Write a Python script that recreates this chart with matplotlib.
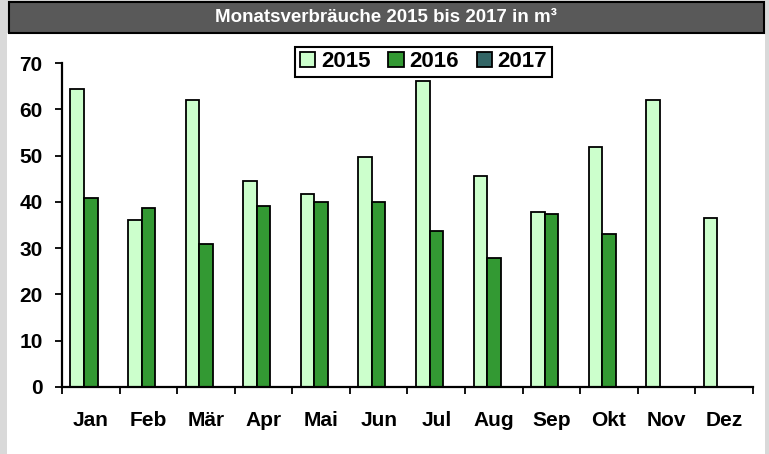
import matplotlib
matplotlib.use('Agg')
import matplotlib.pyplot as plt
from matplotlib.patches import Rectangle
import numpy as np

# Monatsverbräuche in m³
monate = ['Jan', 'Feb', 'Mär', 'Apr', 'Mai', 'Jun', 'Jul', 'Aug', 'Sep', 'Okt', 'Nov', 'Dez']
werte_2015 = [64.3, 36.1, 62.1, 44.4, 41.8, 49.6, 66.2, 45.6, 37.9, 51.8, 62.1, 36.6]
werte_2016 = [40.9, 38.7, 30.9, 39.1, 40.0, 40.0, 33.8, 27.8, 37.4, 33.1, np.nan, np.nan]
werte_2017 = [np.nan] * 12
jahre = ['2015', '2016', '2017']
farben = ['#ccffcc', '#339933', '#336666']

W, H = 769, 454
fig = plt.figure(figsize=(W / 100, H / 100), dpi=100, facecolor='#d9d9d9')

# weißes Feld und Titelbalken (hinter den Achsen)
fig.patches.append(Rectangle((7 / W, 0), 758 / W, (H - 33) / H, transform=fig.transFigure,
                             facecolor='white', edgecolor='none', zorder=-3))
fig.patches.append(Rectangle((9 / W, 1 - 33 / H), 755 / W, 31 / H, transform=fig.transFigure,
                             facecolor='#595959', edgecolor='black', linewidth=1.5, zorder=-2))
fig.text(386 / W, 1 - 18 / H, 'Monatsverbräuche 2015 bis 2017 in m³', color='white',
         ha='center', va='center', fontsize=13.5, fontweight='bold',
         family=['Liberation Sans Narrow', 'Liberation Sans', 'DejaVu Sans'])

ax = fig.add_axes([62 / W, (H - 387) / H, (753 - 62) / W, (387 - 63) / H])
ax.set_facecolor('none')
ax.set_zorder(2)

x = np.arange(len(monate))
b = 0.235
for k, (werte, jahr, farbe) in enumerate(zip([werte_2015, werte_2016, werte_2017], jahre, farben)):
    ax.bar(x + (k - 1) * b, werte, width=b, color=farbe, edgecolor='black', linewidth=1.3,
           label=jahr, zorder=2)

ax.set_xlim(-0.5, len(monate) - 0.5)
ax.set_ylim(0, 70)
ax.set_yticks(range(0, 71, 10))
ax.set_xticks(x)
ax.set_xticks(np.arange(-0.5, len(monate), 1), minor=True)
ax.set_xticklabels(monate)

for s in ['top', 'right']:
    ax.spines[s].set_visible(False)
for s in ['left', 'bottom']:
    ax.spines[s].set_linewidth(1.6)
    ax.spines[s].set_color('black')

schrift = ['Liberation Sans', 'DejaVu Sans']
ax.tick_params(axis='x', which='major', length=0, pad=17)
ax.tick_params(axis='x', which='minor', length=5, width=1.3)
ax.tick_params(axis='y', length=5, width=1.3, pad=9)
for t in ax.get_xticklabels() + ax.get_yticklabels():
    t.set_fontsize(15)
    t.set_fontweight('bold')
    t.set_family(schrift)

leg = ax.legend(loc='upper center', bbox_to_anchor=(423.5 / W, 1 - 47 / H), ncol=3,
                bbox_transform=fig.transFigure,
                frameon=True, fancybox=False, framealpha=1, edgecolor='black',
                handlelength=0.7, handleheight=0.7, handletextpad=0.25,
                columnspacing=0.8, borderpad=0.2, borderaxespad=0,
                prop={'family': schrift, 'weight': 'bold', 'size': 16})
leg.get_frame().set_linewidth(1.5)
leg.set_zorder(5)

fig.savefig('out.png', dpi=100, facecolor=fig.get_facecolor())
